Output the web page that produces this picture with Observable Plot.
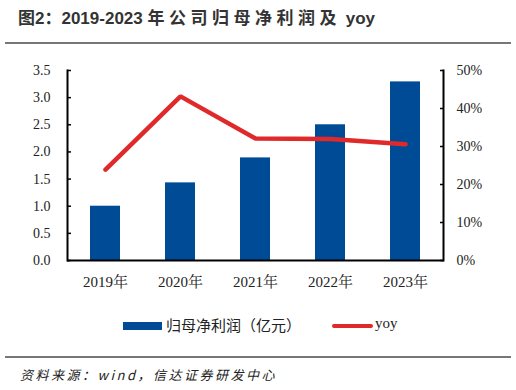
<!DOCTYPE html>
<html><head><meta charset="utf-8">
<script src="https://cdn.jsdelivr.net/npm/d3@7"></script>
<script src="https://cdn.jsdelivr.net/npm/@observablehq/plot@0.6"></script>
<style>
body{margin:0;background:#fff;}
#wrap{position:relative;width:516px;height:390px;overflow:hidden;font-family:"Noto Sans CJK SC","Noto Sans",sans-serif;}
#title{position:absolute;left:18px;top:4px;font-size:17px;font-weight:bold;color:#333;white-space:nowrap;font-family:"Liberation Sans","Noto Sans CJK SC",sans-serif;}
#title .cj{letter-spacing:4.5px;}
.rule{position:absolute;left:5px;width:506px;height:2px;background:#777;}
#chart{position:absolute;left:0;top:0;}
#legend{position:absolute;left:0;top:316px;width:516px;height:20px;font-size:15px;color:#222;}
#source{position:absolute;left:20px;top:365px;font-size:13px;font-style:italic;color:#222;white-space:nowrap;letter-spacing:2.5px;}
</style></head>
<body><div id="wrap">
<div id="title">图2：2019-2023 <span class="cj">年公司归母净利润及</span> yoy</div>
<div class="rule" style="top:42px"></div>
<div id="chart"></div>
<div id="legend">
 <span style="position:absolute;left:123px;top:6px;width:39px;height:8px;background:#004B96"></span>
 <span style="position:absolute;left:166px;top:-2px;">归母净利润（亿元）</span>
 <span style="position:absolute;left:332px;top:8px;width:41px;height:4px;border-radius:2px;background:#E0292B"></span>
 <span style="position:absolute;left:375px;top:-1px;font-family:'Liberation Serif',serif;font-size:15px;">yoy</span>
</div>
<div class="rule" style="top:356px"></div>
<div id="source">资料来源：wind，信达证券研发中心</div>
</div>
<script>
const years = ["2019年","2020年","2021年","2022年","2023年"];
const profit = [1.00, 1.43, 1.89, 2.50, 3.29];
const yoy = [23.9, 43.2, 32.1, 32.0, 30.6];
const leftTicks = [0, 0.5, 1.0, 1.5, 2.0, 2.5, 3.0, 3.5];
const rightTicks = [0, 10, 20, 30, 40, 50];

const yMax = 3.5, rMax = 50;
const toY = v => v / rMax * yMax;
const data = years.map((y, i) => ({year: y, profit: profit[i], yoy: yoy[i]}));

const chart = Plot.plot({
  width: 516, height: 300,
  marginTop: 70, marginBottom: 40, marginLeft: 67, marginRight: 73,
  style: {fontFamily: "'Liberation Serif','Noto Serif CJK SC',serif", fontSize: "14px", color: "#222"},
  x: {domain: years, paddingInner: 0.6, paddingOuter: 0.3, label: null},
  y: {domain: [0, yMax], label: null},
  marks: [
    Plot.barY(data, {x: "year", y: "profit", fill: "#004B96"}),
    Plot.lineY(data, {x: "year", y: d => toY(d.yoy), stroke: "#E0292B", strokeWidth: 4.5, strokeLinecap: "round", strokeLinejoin: "miter"}),
    Plot.axisY(leftTicks, {anchor: "left", tickSize: 4, dx: 4, tickFormat: () => "", stroke: "#000", strokeWidth: 1.5}),
    Plot.axisY(leftTicks, {anchor: "left", tickSize: 0, tickPadding: 17, tickFormat: d => d.toFixed(1)}),
    Plot.axisY(rightTicks.map(toY), {anchor: "right", tickSize: 4, dx: -4, tickFormat: () => "", stroke: "#000", strokeWidth: 1.5}),
    Plot.axisY(rightTicks.map(toY), {anchor: "right", tickSize: 0, tickPadding: 13, tickFormat: d => Math.round(d / yMax * rMax) + "%"}),
    Plot.axisX({tickSize: 0, tickPadding: 16, fontSize: 15}),
    Plot.ruleY([0], {stroke: "#000", strokeWidth: 2}),
    Plot.frame({anchor: "left", stroke: "#000", strokeWidth: 2}),
    Plot.frame({anchor: "right", stroke: "#000", strokeWidth: 2})
  ]
});
document.getElementById("chart").appendChild(chart);
</script>
</body></html>
